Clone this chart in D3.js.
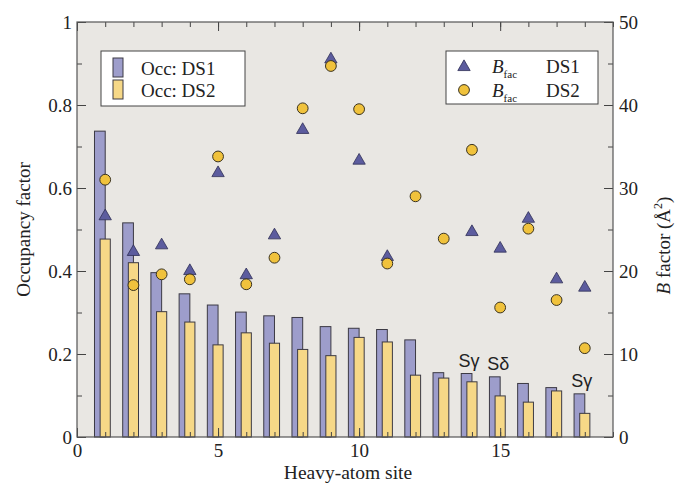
<!DOCTYPE html>
<html>
<head>
<meta charset="utf-8">
<script src="https://cdn.jsdelivr.net/npm/d3@7"></script>
<style>
  html, body { margin: 0; padding: 0; background: #fff; overflow: hidden; }
  svg { display: block; overflow: visible; }
  svg text { font-family: "Liberation Serif", "Times New Roman", serif; fill: #222; }
</style>
</head>
<body>
<div id="chart"></div>
<script>
// Данные: сайты тяжёлых атомов
const sites = d3.range(1, 19);
const occDS1 = [0.737, 0.516, 0.396, 0.345, 0.318, 0.301, 0.292, 0.288, 0.266,
                0.262, 0.259, 0.234, 0.155, 0.153, 0.145, 0.129, 0.119, 0.104];
const occDS2 = [0.477, 0.420, 0.302, 0.277, 0.222, 0.251, 0.226, 0.211, 0.196,
                0.240, 0.229, 0.149, 0.142, 0.133, 0.099, 0.084, 0.111, 0.057];
// null: треугольник скрыт под кружком DS2
const bfacDS1 = [26.6, 22.3, 23.1, 20.0, 31.8, 19.5, 24.3, 37.0, 45.5,
                 33.3, 21.7, null, null, 24.7, 22.7, 26.3, 19.0, 18.0];
const bfacDS2 = [31.0, 18.3, 19.6, 19.0, 33.8, 18.4, 21.6, 39.6, 44.7,
                 39.5, 20.9, 29.0, 23.9, 34.6, 15.6, 25.1, 16.5, 10.7];
const xTicks = [0, 5, 10, 15];
const occTicks = [0, 0.2, 0.4, 0.6, 0.8, 1];
const bTicks = [0, 10, 20, 30, 40, 50];
const labels = [
  { site: 14, occ: 0.153, text: 'Sγ', dx: -3 },
  { site: 15, occ: 0.145, text: 'Sδ', dx: -2 },
  { site: 18, occ: 0.104, text: 'Sγ', dx: -3 }
];

const width = 678, height = 486;
const margin = { top: 22, right: 65, bottom: 49, left: 77 };
const innerWidth = width - margin.left - margin.right;
const innerHeight = height - margin.top - margin.bottom;

const colors = {
  bar1: '#9d9dcb', bar2: '#f6d887', tri: '#5c5c9e', circ: '#f0c23c',
  stroke: '#3c3a44', bg: '#e9e7e3'
};

const svg = d3.select('#chart').append('svg')
  .attr('width', width)
  .attr('height', height);

const g = svg.append('g')
  .attr('transform', `translate(${margin.left},${margin.top})`);

// Scales
const xScale = d3.scaleLinear().domain([0, 19]).range([0, innerWidth]);
const yOcc = d3.scaleLinear().domain([0, 1]).range([innerHeight, 0]);
const yB = d3.scaleLinear().domain([0, 50]).range([innerHeight, 0]);

g.append('rect')
  .attr('width', innerWidth)
  .attr('height', innerHeight)
  .attr('fill', colors.bg);

// Столбцы
const bw = xScale(0.38) - xScale(0);
g.selectAll('.bar1').data(sites).enter().append('rect')
  .attr('class', 'bar1')
  .attr('x', (d) => xScale(d - 0.38))
  .attr('width', bw)
  .attr('y', (d, i) => yOcc(occDS1[i]))
  .attr('height', (d, i) => innerHeight - yOcc(occDS1[i]))
  .attr('fill', colors.bar1)
  .attr('stroke', colors.stroke)
  .attr('stroke-width', 1);

const bw2 = xScale(0.36) - xScale(0);
g.selectAll('.bar2').data(sites).enter().append('rect')
  .attr('class', 'bar2')
  .attr('x', (d) => xScale(d - 0.18))
  .attr('width', bw2)
  .attr('y', (d, i) => yOcc(occDS2[i]))
  .attr('height', (d, i) => innerHeight - yOcc(occDS2[i]))
  .attr('fill', colors.bar2)
  .attr('stroke', colors.stroke)
  .attr('stroke-width', 1);

// Точки B-фактора
const tri = d3.symbol().type(d3.symbolTriangle).size(66);
const triData = sites.map((s, i) => ({ site: s, b: bfacDS1[i] })).filter((d) => d.b !== null);
g.selectAll('.tri').data(triData).enter().append('path')
  .attr('class', 'tri')
  .attr('d', tri)
  .attr('transform', (d) => `translate(${xScale(d.site)},${yB(d.b)})`)
  .attr('fill', colors.tri)
  .attr('stroke', '#2e2e55')
  .attr('stroke-width', 0.8);

g.selectAll('.circ').data(sites).enter().append('circle')
  .attr('class', 'circ')
  .attr('cx', (d) => xScale(d))
  .attr('cy', (d, i) => yB(bfacDS2[i]))
  .attr('r', 5.4)
  .attr('fill', colors.circ)
  .attr('stroke', '#3a3320')
  .attr('stroke-width', 1);

// Подписи атомов
g.selectAll('.lab').data(labels).enter().append('text')
  .attr('x', (d) => xScale(d.site) + d.dx)
  .attr('y', (d) => yOcc(d.occ) - 7)
  .attr('text-anchor', 'middle')
  .style('font-family', '"Liberation Sans", Arial, sans-serif')
  .style('font-size', '18px')
  .text((d) => d.text);

// Оси (тики внутрь)
const axisStyle = (sel) => {
  sel.select('.domain').remove();
  sel.selectAll('line').attr('stroke', '#444');
  sel.selectAll('text').style('font-size', '19px')
    .style('font-family', '"Liberation Serif", serif').attr('fill', '#222');
};
const minorStyle = (sel) => {
  sel.select('.domain').remove();
  sel.selectAll('text').remove();
  sel.selectAll('line').attr('stroke', '#444');
};

g.append('g').attr('transform', `translate(0,${innerHeight})`)
  .call(d3.axisBottom(xScale).tickValues(xTicks).tickSizeInner(-9).tickSizeOuter(0)
    .tickPadding(7).tickFormat(d3.format('d')))
  .call(axisStyle);
g.append('g').attr('transform', `translate(0,${innerHeight})`)
  .call(d3.axisBottom(xScale).tickValues(d3.range(0, 20)).tickSizeInner(-5).tickSizeOuter(0))
  .call(minorStyle);
g.append('g')
  .call(d3.axisTop(xScale).tickValues(xTicks).tickSizeInner(-9).tickSizeOuter(0))
  .call(minorStyle);
g.append('g')
  .call(d3.axisTop(xScale).tickValues(d3.range(0, 20)).tickSizeInner(-5).tickSizeOuter(0))
  .call(minorStyle);

g.append('g')
  .call(d3.axisLeft(yOcc).tickValues(occTicks).tickSizeInner(-9).tickSizeOuter(0)
    .tickPadding(5).tickFormat(d3.format('~g')))
  .call(axisStyle);
g.append('g')
  .call(d3.axisLeft(yOcc).tickValues(d3.range(0.1, 1, 0.2)).tickSizeInner(-5).tickSizeOuter(0))
  .call(minorStyle);

g.append('g').attr('transform', `translate(${innerWidth},0)`)
  .call(d3.axisRight(yB).tickValues(bTicks).tickSizeInner(-9).tickSizeOuter(0)
    .tickPadding(6).tickFormat(d3.format('d')))
  .call(axisStyle);
g.append('g').attr('transform', `translate(${innerWidth},0)`)
  .call(d3.axisRight(yB).tickValues(d3.range(5, 50, 10)).tickSizeInner(-5).tickSizeOuter(0))
  .call(minorStyle);

g.append('rect')
  .attr('width', innerWidth)
  .attr('height', innerHeight)
  .attr('fill', 'none')
  .attr('stroke', '#555')
  .attr('stroke-width', 1.2);

// Подписи осей
svg.append('text')
  .attr('transform', `translate(30,${margin.top + innerHeight / 2}) rotate(-90)`)
  .attr('text-anchor', 'middle')
  .style('font-size', '19px')
  .text('Occupancy factor');

svg.append('text')
  .attr('x', 348).attr('y', 479)
  .attr('text-anchor', 'middle')
  .style('font-size', '19.5px')
  .text('Heavy-atom site');

const bLab = svg.append('text')
  .attr('transform', `translate(670,${margin.top + innerHeight / 2 + 16}) rotate(-90)`)
  .attr('text-anchor', 'middle')
  .style('font-size', '19px');
bLab.append('tspan').style('font-style', 'italic').text('B');
bLab.append('tspan').text(' factor (Å');
bLab.append('tspan').attr('dy', -8).style('font-size', '12px').text('2');
bLab.append('tspan').attr('dy', 8).text(')');

// Легенды
const leg1 = svg.append('g').attr('transform', 'translate(101,51)');
leg1.append('rect').attr('width', 144).attr('height', 55)
  .attr('fill', '#fff').attr('stroke', '#444').attr('stroke-width', 1);
[['Occ: DS1', colors.bar1], ['Occ: DS2', colors.bar2]].forEach(([t, c], i) => {
  leg1.append('rect').attr('x', 12).attr('y', 7 + i * 22).attr('width', 10).attr('height', 19)
    .attr('fill', c).attr('stroke', colors.stroke);
  leg1.append('text').attr('x', 40).attr('y', 24 + i * 22)
    .style('font-size', '19px').text(t);
});

const leg2 = svg.append('g').attr('transform', 'translate(446,51)');
leg2.append('rect').attr('width', 152).attr('height', 53)
  .attr('fill', '#fff').attr('stroke', '#444').attr('stroke-width', 1);
leg2.append('path').attr('d', tri).attr('transform', 'translate(18,16)')
  .attr('fill', colors.tri).attr('stroke', '#2e2e55').attr('stroke-width', 0.8);
leg2.append('circle').attr('cx', 18).attr('cy', 39).attr('r', 5.4)
  .attr('fill', colors.circ).attr('stroke', '#3a3320');
['DS1', 'DS2'].forEach((t, i) => {
  const tx = leg2.append('text').attr('x', 46).attr('y', 22 + i * 24).style('font-size', '19px');
  tx.append('tspan').style('font-style', 'italic').text('B');
  tx.append('tspan').attr('dy', 5).style('font-size', '11px').text('fac');
  leg2.append('text').attr('x', 100).attr('y', 22 + i * 24).style('font-size', '19px').text(t);
});
</script>
</body>
</html>
